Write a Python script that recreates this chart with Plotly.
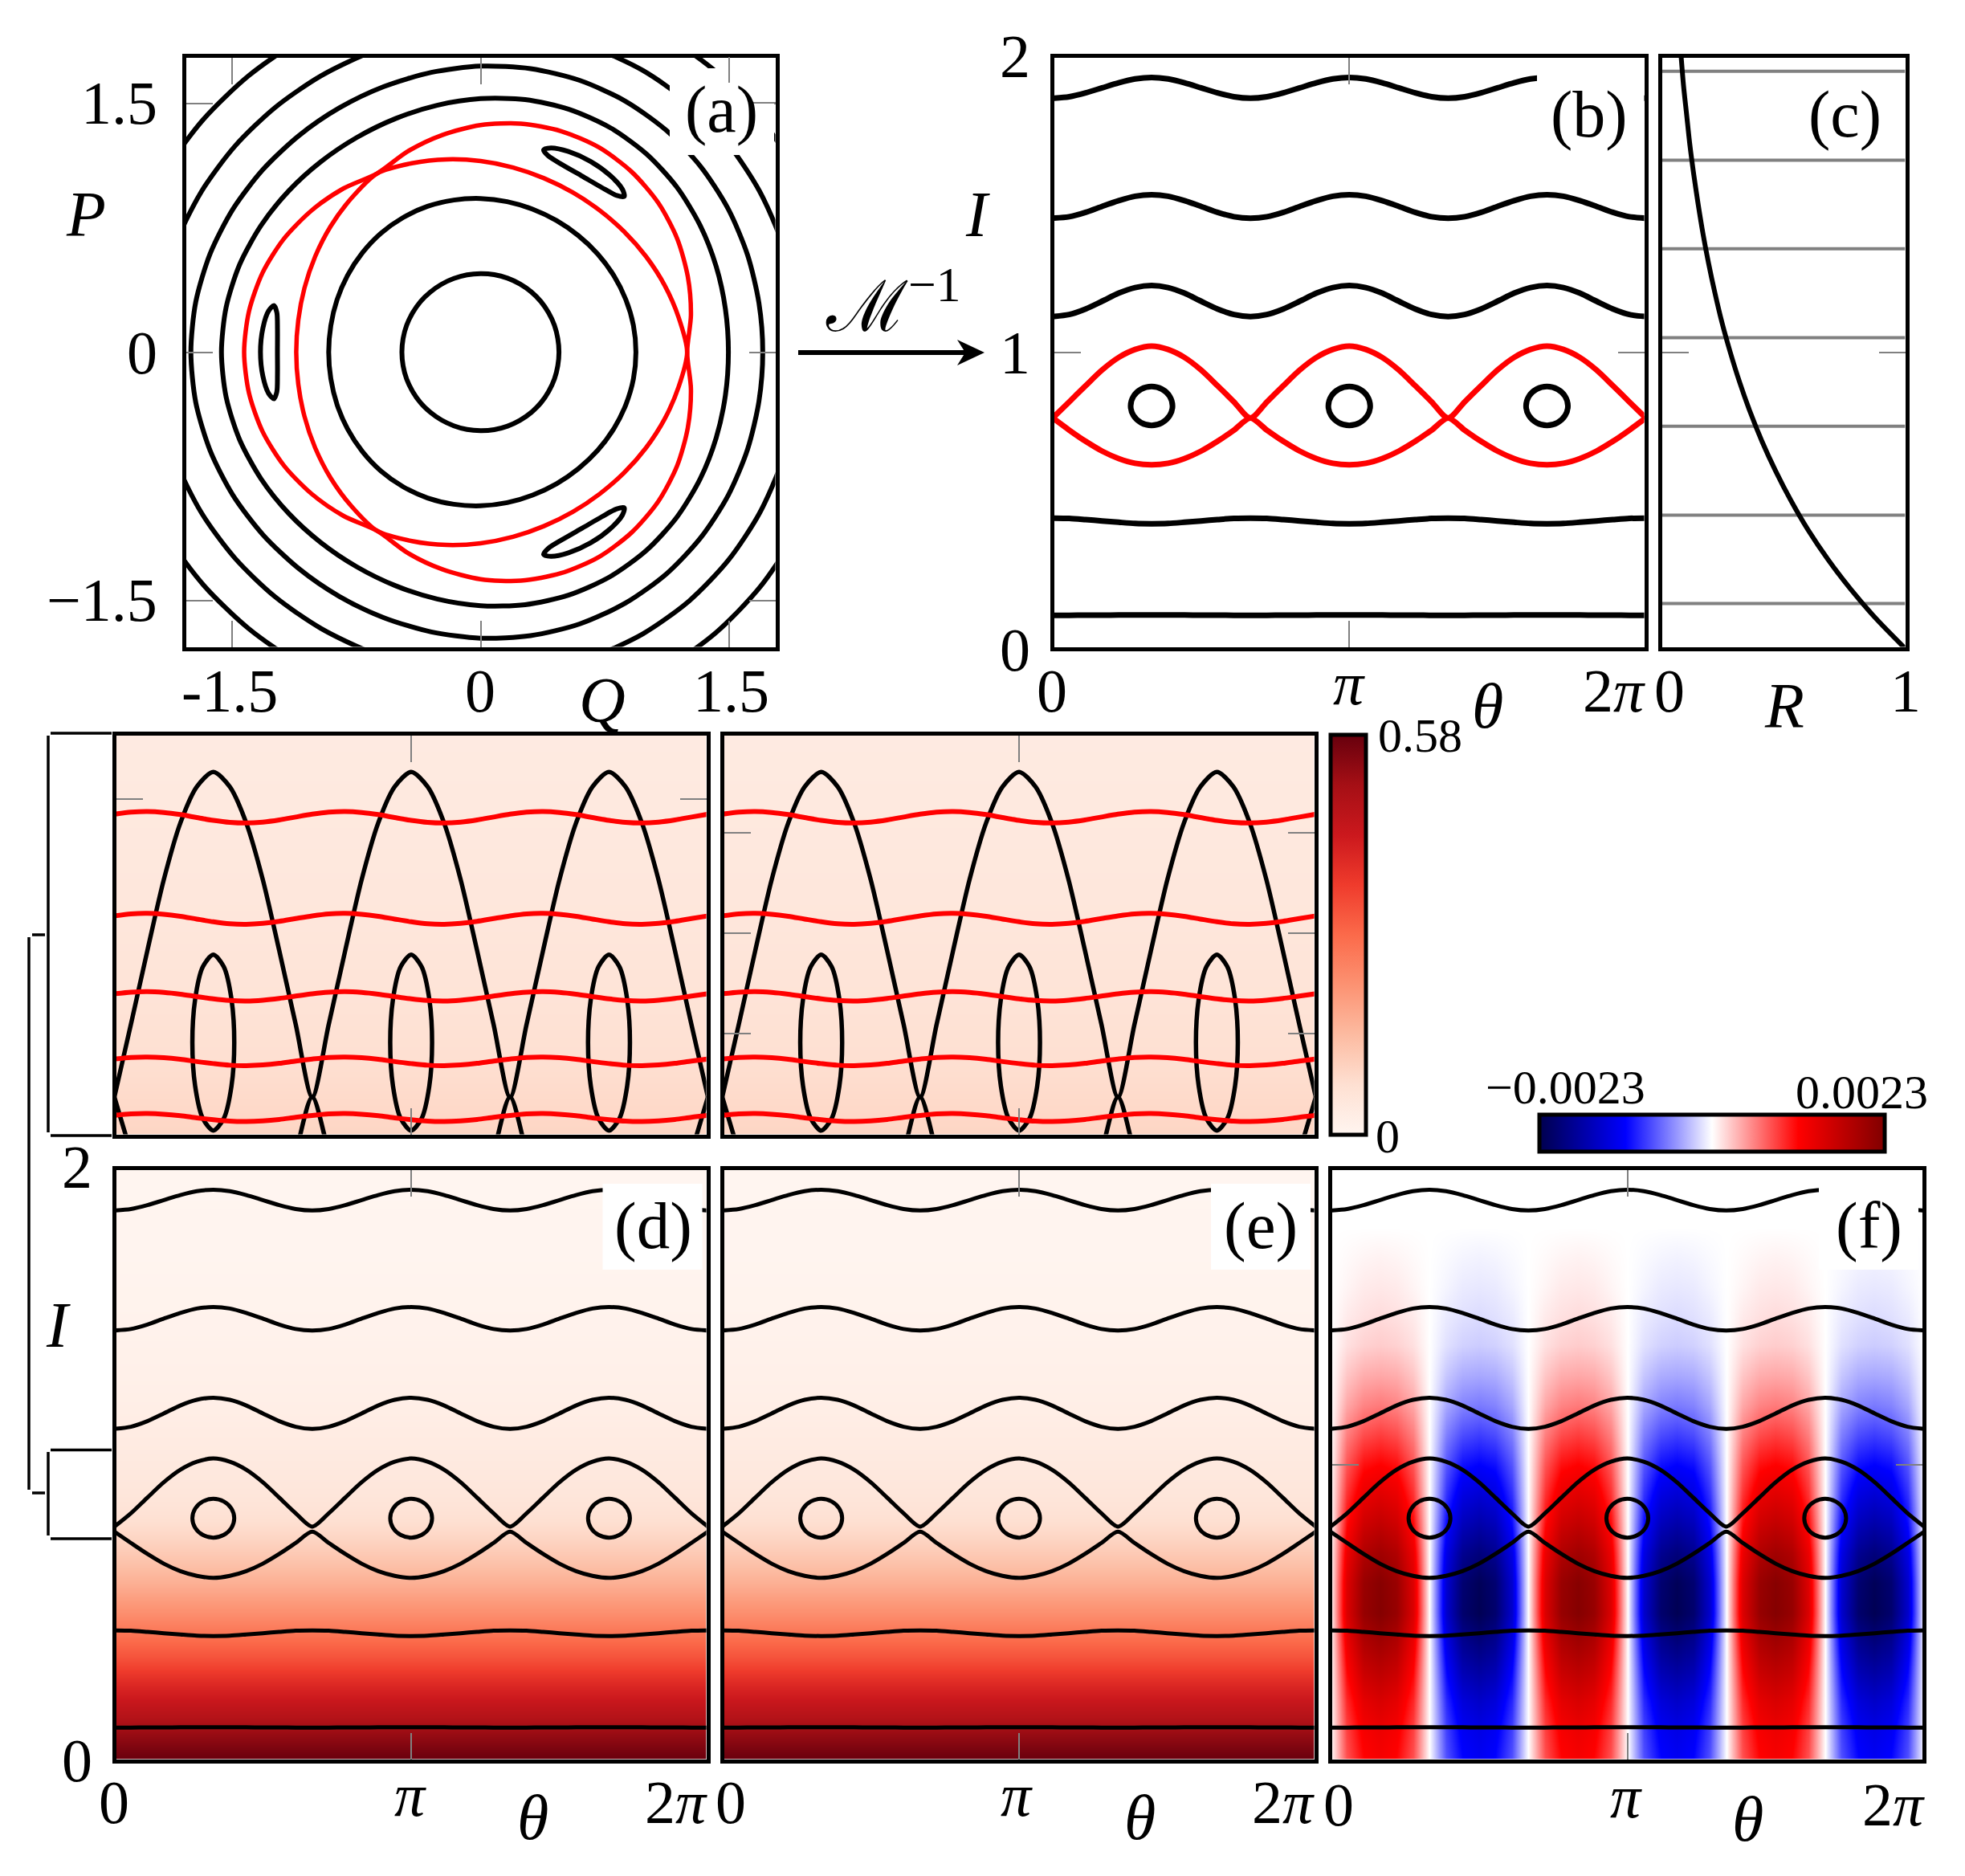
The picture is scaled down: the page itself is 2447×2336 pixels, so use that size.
import numpy as np
import plotly.graph_objects as go

W, H = 2447, 2336

# ---------- values ----------
THETA_DEG = [0,10,20,30,40,50,60,70,80,90,100,110,120,130,140,150,160,170,180,190,200,210,220,230,240,250,260,270,280,290,300,310,320,330,340,350,360]

C1 = [.112,.112,.1125,.1125,.113,.113,.113,.113,.113,.1125,.1125,.112,.112,.112,.1125,.1125,.113,.113,.113,.113,.113,.1125,.1125,.112,.112,.112,.1125,.1125,.113,.113,.113,.113,.113,.1125,.1125,.112,.112]
C2 = [.440,.439,.435,.4305,.426,.422,.421,.422,.426,.4305,.435,.439,.440,.439,.435,.4305,.426,.422,.421,.422,.426,.4305,.435,.439,.440,.439,.435,.4305,.426,.422,.421,.422,.426,.4305,.435,.439,.440]
C4 = [1.120,1.127,1.146,1.172,1.199,1.218,1.225,1.218,1.199,1.172,1.146,1.127,1.120,1.127,1.146,1.172,1.199,1.218,1.225,1.218,1.199,1.172,1.146,1.127,1.120,1.127,1.146,1.172,1.199,1.218,1.225,1.218,1.199,1.172,1.146,1.127,1.120]
C5 = [1.452,1.457,1.472,1.492,1.511,1.526,1.531,1.526,1.511,1.492,1.472,1.457,1.452,1.457,1.472,1.492,1.511,1.526,1.531,1.526,1.511,1.492,1.472,1.457,1.452,1.457,1.472,1.492,1.511,1.526,1.531,1.526,1.511,1.492,1.472,1.457,1.452]
C6 = [1.857,1.862,1.875,1.892,1.909,1.922,1.927,1.922,1.909,1.892,1.875,1.862,1.857,1.862,1.875,1.892,1.909,1.922,1.927,1.922,1.909,1.892,1.875,1.862,1.857,1.862,1.875,1.892,1.909,1.922,1.927,1.922,1.909,1.892,1.875,1.862,1.857]
C7 = [2.37,2.375,2.39,2.41,2.43,2.445,2.45,2.445,2.43,2.41,2.39,2.375,2.37,2.375,2.39,2.41,2.43,2.445,2.45,2.445,2.43,2.41,2.39,2.375,2.37,2.375,2.39,2.41,2.43,2.445,2.45,2.445,2.43,2.41,2.39,2.375,2.37]

SEP_UP = [.778,.832,.887,.94,.982,1.009,1.02,1.009,.982,.94,.887,.832,.778,.832,.887,.94,.982,1.009,1.02,1.009,.982,.94,.887,.832,.778,.832,.887,.94,.982,1.009,1.02,1.009,.982,.94,.887,.832,.778]
SEP_LO = [.778,.737,.699,.666,.641,.625,.62,.625,.641,.666,.699,.737,.778,.737,.699,.666,.641,.625,.62,.625,.641,.666,.699,.737,.778,.737,.699,.666,.641,.625,.62,.625,.641,.666,.699,.737,.778]
SEP_UP_D = [.790,.835,.888,.94,.982,1.009,1.02,1.009,.982,.94,.888,.835,.790,.835,.888,.94,.982,1.009,1.02,1.009,.982,.94,.888,.835,.790,.835,.888,.94,.982,1.009,1.02,1.009,.982,.94,.888,.835,.790]
SEP_LO_D = [.773,.735,.698,.665,.640,.624,.617,.624,.640,.665,.698,.735,.773,.735,.698,.665,.640,.624,.617,.624,.640,.665,.698,.735,.773,.735,.698,.665,.640,.624,.617,.624,.640,.665,.698,.735,.773]

ISLAND_I = [.8185,.851,.875,.884,.875,.851,.8185,.786,.762,.753,.762,.786,.8185]
ISLAND_T1 = [72.7,71,66.35,60,53.65,49,47.3,49,53.65,60,66.35,71,72.7]
ISLAND_T2 = [192.7,191,186.35,180,173.65,169,167.3,169,173.65,180,186.35,191,192.7]
ISLAND_T3 = [312.7,311,306.35,300,293.65,289,287.3,289,293.65,300,306.35,311,312.7]

RED1 = [.9886,.9901,.9906,.9899,.9883,.9861,.9840,.9825,.9820,.9827,.9843,.9865,.9886,.9901,.9906,.9899,.9883,.9861,.9840,.9825,.9820,.9827,.9843,.9865,.9886,.9901,.9906,.9899,.9883,.9861,.9840,.9825,.9820,.9827,.9843,.9865,.9886]
RED2 = [.9129,.9144,.9148,.9141,.9126,.9105,.9085,.9070,.9066,.9073,.9088,.9109,.9129,.9144,.9148,.9141,.9126,.9105,.9085,.9070,.9066,.9073,.9088,.9109,.9129,.9144,.9148,.9141,.9126,.9105,.9085,.9070,.9066,.9073,.9088,.9109,.9129]
RED3 = [.8549,.8561,.8565,.8559,.8546,.8528,.8511,.8499,.8495,.8501,.8514,.8532,.8549,.8561,.8565,.8559,.8546,.8528,.8511,.8499,.8495,.8501,.8514,.8532,.8549,.8561,.8565,.8559,.8546,.8528,.8511,.8499,.8495,.8501,.8514,.8532,.8549]
RED4 = [.8063,.8075,.8078,.8073,.8061,.8044,.8029,.8017,.8014,.8019,.8031,.8048,.8063,.8075,.8078,.8073,.8061,.8044,.8029,.8017,.8014,.8019,.8031,.8048,.8063,.8075,.8078,.8073,.8061,.8044,.8029,.8017,.8014,.8019,.8031,.8048,.8063]
RED5 = [.7643,.7654,.7657,.7652,.7641,.7625,.7611,.7600,.7597,.7602,.7613,.7629,.7643,.7654,.7657,.7652,.7641,.7625,.7611,.7600,.7597,.7602,.7613,.7629,.7643,.7654,.7657,.7652,.7641,.7625,.7611,.7600,.7597,.7602,.7613,.7629,.7643]

# panel (c)
R_I = [0,.1,.2,.3,.4,.5,.6,.7,.8,.9,1,1.1,1.2,1.3,1.4,1.5,1.6,1.7,1.8,1.9,2]
R_VAL = [1,.881,.776,.683,.601,.530,.467,.411,.362,.319,.281,.247,.218,.192,.169,.149,.131,.115,.102,.089,.079]
R_GREY_LEVELS = [.152,.45,.75,1.049,1.349,1.648,1.948]

# panels (d), (e): density against I
DENS_I = [0,.05,.1,.15,.2,.25,.3,.35,.4,.45,.5,.55,.6,.65,.7,.75,.8,.85,.9,.95,1,1.05,1.1,1.15,1.2,1.25,1.3,1.35,1.4,1.45,1.5,1.55,1.6,1.65,1.7,1.75,1.8,1.85,1.9,1.95,2]
DENS_Z = [.58,.551,.516,.476,.441,.406,.365,.325,.29,.255,.223,.194,.165,.139,.116,.093,.075,.061,.052,.046,.041,.036,.032,.027,.023,.020,.017,.015,.013,.010,.009,.007,.006,.005,.003,.003,.002,.002,.001,.001,0]
DENS_TH = [0, 360]

# panel (f): difference, in units of the colour-bar limit
F_I = [0,.1,.2,.3,.4,.5,.6,.7,.8,.9,1,1.1,1.2,1.3,1.4,1.5,1.6,1.7,1.8,1.9,2]
F_TABLE = [
[0,.34,.49,.53,.49,.34,0,-.34,-.49,-.53,-.49,-.34,0,.34,.49,.53,.49,.34,0,-.34,-.49,-.53,-.49,-.34,0,.34,.49,.53,.49,.34,0,-.34,-.49,-.53,-.49,-.34,0],
[0,.37,.53,.57,.53,.37,0,-.37,-.53,-.57,-.53,-.37,0,.37,.53,.57,.53,.37,0,-.37,-.53,-.57,-.53,-.37,0,.37,.53,.57,.53,.37,0,-.37,-.53,-.57,-.53,-.37,0],
[0,.42,.60,.65,.60,.42,0,-.42,-.60,-.65,-.60,-.42,0,.42,.60,.65,.60,.42,0,-.42,-.60,-.65,-.60,-.42,0,.42,.60,.65,.60,.42,0,-.42,-.60,-.65,-.60,-.42,0],
[0,.49,.71,.76,.71,.49,0,-.49,-.71,-.76,-.71,-.49,0,.49,.71,.76,.71,.49,0,-.49,-.71,-.76,-.71,-.49,0,.49,.71,.76,.71,.49,0,-.49,-.71,-.76,-.71,-.49,0],
[0,.57,.81,.87,.81,.57,0,-.57,-.81,-.87,-.81,-.57,0,.57,.81,.87,.81,.57,0,-.57,-.81,-.87,-.81,-.57,0,.57,.81,.87,.81,.57,0,-.57,-.81,-.87,-.81,-.57,0],
[0,.64,.91,.98,.91,.64,0,-.64,-.91,-.98,-.91,-.64,0,.64,.91,.98,.91,.64,0,-.64,-.91,-.98,-.91,-.64,0,.64,.91,.98,.91,.64,0,-.64,-.91,-.98,-.91,-.64,0],
[0,.63,.90,.97,.90,.63,0,-.63,-.90,-.97,-.90,-.63,0,.63,.90,.97,.90,.63,0,-.63,-.90,-.97,-.90,-.63,0,.63,.90,.97,.90,.63,0,-.63,-.90,-.97,-.90,-.63,0],
[0,.57,.81,.87,.81,.57,0,-.57,-.81,-.87,-.81,-.57,0,.57,.81,.87,.81,.57,0,-.57,-.81,-.87,-.81,-.57,0,.57,.81,.87,.81,.57,0,-.57,-.81,-.87,-.81,-.57,0],
[0,.48,.69,.74,.69,.48,0,-.48,-.69,-.74,-.69,-.48,0,.48,.69,.74,.69,.48,0,-.48,-.69,-.74,-.69,-.48,0,.48,.69,.74,.69,.48,0,-.48,-.69,-.74,-.69,-.48,0],
[0,.40,.58,.62,.58,.40,0,-.40,-.58,-.62,-.58,-.40,0,.40,.58,.62,.58,.40,0,-.40,-.58,-.62,-.58,-.40,0,.40,.58,.62,.58,.40,0,-.40,-.58,-.62,-.58,-.40,0],
[0,.33,.47,.50,.47,.33,0,-.33,-.47,-.50,-.47,-.33,0,.33,.47,.50,.47,.33,0,-.33,-.47,-.50,-.47,-.33,0,.33,.47,.50,.47,.33,0,-.33,-.47,-.50,-.47,-.33,0],
[0,.25,.35,.38,.35,.25,0,-.25,-.35,-.38,-.35,-.25,0,.25,.35,.38,.35,.25,0,-.25,-.35,-.38,-.35,-.25,0,.25,.35,.38,.35,.25,0,-.25,-.35,-.38,-.35,-.25,0],
[0,.17,.24,.26,.24,.17,0,-.17,-.24,-.26,-.24,-.17,0,.17,.24,.26,.24,.17,0,-.17,-.24,-.26,-.24,-.17,0,.17,.24,.26,.24,.17,0,-.17,-.24,-.26,-.24,-.17,0],
[0,.11,.16,.17,.16,.11,0,-.11,-.16,-.17,-.16,-.11,0,.11,.16,.17,.16,.11,0,-.11,-.16,-.17,-.16,-.11,0,.11,.16,.17,.16,.11,0,-.11,-.16,-.17,-.16,-.11,0],
[0,.06,.09,.10,.09,.06,0,-.06,-.09,-.10,-.09,-.06,0,.06,.09,.10,.09,.06,0,-.06,-.09,-.10,-.09,-.06,0,.06,.09,.10,.09,.06,0,-.06,-.09,-.10,-.09,-.06,0],
[0,.04,.06,.07,.06,.04,0,-.04,-.06,-.07,-.06,-.04,0,.04,.06,.07,.06,.04,0,-.04,-.06,-.07,-.06,-.04,0,.04,.06,.07,.06,.04,0,-.04,-.06,-.07,-.06,-.04,0],
[0,.02,.04,.045,.04,.02,0,-.02,-.04,-.045,-.04,-.02,0,.02,.04,.045,.04,.02,0,-.02,-.04,-.045,-.04,-.02,0,.02,.04,.045,.04,.02,0,-.02,-.04,-.045,-.04,-.02,0],
[0,.01,.02,.025,.02,.01,0,-.01,-.02,-.025,-.02,-.01,0,.01,.02,.025,.02,.01,0,-.01,-.02,-.025,-.02,-.01,0,.01,.02,.025,.02,.01,0,-.01,-.02,-.025,-.02,-.01,0],
[0]*37, [0]*37, [0]*37,
]
F_LIMIT = 0.0023
DENS_LIMIT = 0.58

REDS = [[0,"#fff5f0"],[.125,"#fee0d2"],[.25,"#fcbba1"],[.375,"#fc9272"],[.5,"#fb6a4a"],[.625,"#ef3b2c"],[.75,"#cb181d"],[.875,"#a50f15"],[1,"#67000d"]]
SEISMIC = [[0,"#00004d"],[.25,"#0000ff"],[.5,"#ffffff"],[.75,"#ff0000"],[1,"#800000"]]

FONT = "Liberation Serif"
GREY = "#808080"

fig = go.Figure()
LAYOUT = {}
count = [0]

def panel(x0, x1, y0, y1, xr, yr, xticks=None, yticks=None):
    """Pixel box of the frame -> an x/y axis pair. Returns trace axis names."""
    count[0] += 1
    n = count[0]
    sfx = "" if n == 1 else str(n)
    common = dict(showgrid=False, zeroline=False, showline=True, linecolor="black", linewidth=5,
                  mirror="ticks", ticks="inside", ticklen=33, tickwidth=2, tickcolor=GREY,
                  showticklabels=False, layer="above traces")
    LAYOUT["xaxis" + sfx] = dict(common, domain=[(x0 + 2.5) / W, (x1 - 2.5) / W], range=xr,
                                 tickmode="array", tickvals=xticks or [], anchor="y" + sfx)
    LAYOUT["yaxis" + sfx] = dict(common, domain=[1 - (y1 - 2.5) / H, 1 - (y0 + 2.5) / H], range=yr,
                                 tickmode="array", tickvals=yticks or [], anchor="x" + sfx)
    return "x" + sfx, "y" + sfx

def curve(ax, x, y, color="black", width=4):
    fig.add_trace(go.Scatter(x=x, y=y, xaxis=ax[0], yaxis=ax[1], mode="lines", showlegend=False, hoverinfo="skip",
                             line=dict(color=color, width=width, shape="spline", smoothing=0.8)))

annos = []
def txt(x, y, s, size=76, xanchor="center", color="black"):
    annos.append(dict(x=x / W, y=1 - y / H, xref="paper", yref="paper", text=s, showarrow=False,
                      xanchor=xanchor, yanchor="middle", font=dict(family=FONT, size=size, color=color)))

shapes = []
def seg(x0, y0, x1, y1, color="black", width=3.5):
    shapes.append(dict(type="line", xref="paper", yref="paper", x0=x0 / W, x1=x1 / W, y0=1 - y0 / H, y1=1 - y1 / H,
                       line=dict(color=color, width=width)))
def box(x0, y0, x1, y1):
    shapes.append(dict(type="rect", xref="paper", yref="paper", x0=x0 / W, x1=x1 / W, y0=1 - y0 / H, y1=1 - y1 / H,
                       fillcolor="white", line=dict(width=0), layer="above"))

def QP(theta, act):
    r = np.sqrt(2 * np.asarray(act, float))
    t = np.radians(np.asarray(theta, float))
    return (r * np.cos(t)).tolist(), (r * np.sin(t)).tolist()

# ---------- (a) ----------
a = panel(229, 968, 69, 808, [-1.78, 1.78], [-1.78, 1.78], [-1.5, 0, 1.5], [-1.5, 0, 1.5])
for c in (C1, C2, C4, C5, C6, C7):
    curve(a, *QP(THETA_DEG, c), width=6)
for t in (ISLAND_T1, ISLAND_T2, ISLAND_T3):
    curve(a, *QP(t, ISLAND_I), width=6)
for c in (SEP_UP, SEP_LO):
    curve(a, *QP(THETA_DEG, c), color="#ff0000", width=5.5)

# ---------- (b) ----------
b = panel(1310.5, 2050, 69, 808, [1, 359], [.0054, 1.9946], [180], [1])
for c in (C1, C2, C4, C5, C6):
    curve(b, THETA_DEG, c, width=7)
for t in (ISLAND_T1, ISLAND_T2, ISLAND_T3):
    curve(b, t, ISLAND_I, width=7)
for c in (SEP_UP, SEP_LO):
    curve(b, THETA_DEG, c, color="#ff0000", width=7)

# ---------- (c) ----------
c_ax = panel(2067, 2375, 69, 808, [0, 1], [.0054, 1.9946], [], [1])
for lev in R_GREY_LEVELS:
    fig.add_trace(go.Scatter(x=[0, 1], y=[lev, lev], xaxis=c_ax[0], yaxis=c_ax[1], mode="lines", showlegend=False,
                             hoverinfo="skip", line=dict(color=GREY, width=4)))
curve(c_ax, R_VAL, R_I, width=6)

# ---------- upper density panels ----------
def heat_dens(ax, **kw):
    fig.add_trace(go.Heatmap(x=DENS_TH, y=DENS_I, z=[[v, v] for v in DENS_Z], xaxis=ax[0], yaxis=ax[1],
                             colorscale=REDS, zmin=0, zmax=DENS_LIMIT, zsmooth="best", hoverinfo="skip", **kw))

TOP_Y = [.7502, 1.0474]
dt = panel(142, 882, 913, 1415, [1, 359], TOP_Y, [180], [1.0])
et = panel(899, 1639, 913, 1415, [1, 359], TOP_Y, [180], [.825, .9, .975])
heat_dens(dt, showscale=False)
heat_dens(et, showscale=True, colorbar=dict(
    x=1657 / W, xanchor="left", xpad=0, y=1 - 915 / H, yanchor="top", ypad=0,
    thickness=44, thicknessmode="pixels", len=498, lenmode="pixels",
    outlinecolor="black", outlinewidth=5, ticks="", showticklabels=False))
for ax in (dt, et):
    for c in (SEP_UP, SEP_LO):
        curve(ax, THETA_DEG, c, width=5.5)
    for t in (ISLAND_T1, ISLAND_T2, ISLAND_T3):
        curve(ax, t, ISLAND_I, width=5.5)
    for c in (RED1, RED2, RED3, RED4, RED5):
        curve(ax, THETA_DEG, c, color="#ff0000", width=6)

# ---------- (d), (e), (f) ----------
d = panel(142, 882, 1454, 2193, [1, 359], [.0054, 1.9946], [180], [])
e = panel(899, 1639, 1454, 2193, [1, 359], [.0054, 1.9946], [180], [])
f = panel(1656.5, 2396.5, 1454, 2193, [1, 359], [.0054, 1.9946], [180], [1])
heat_dens(d, showscale=False)
heat_dens(e, showscale=False)
fig.add_trace(go.Heatmap(x=THETA_DEG, y=F_I, z=(np.array(F_TABLE) * F_LIMIT).tolist(), xaxis=f[0], yaxis=f[1],
                         colorscale=SEISMIC, zmin=-F_LIMIT, zmax=F_LIMIT, zsmooth="best", hoverinfo="skip",
                         colorbar=dict(orientation="h", x=1917 / W, xanchor="left", xpad=0,
                                       y=1 - 1388 / H, yanchor="top", ypad=0,
                                       thickness=46, thicknessmode="pixels", len=430, lenmode="pixels",
                                       outlinecolor="black", outlinewidth=5, ticks="", showticklabels=False)))
for ax in (d, e, f):
    for c in (C1, C2, C4, C5, C6, SEP_UP_D, SEP_LO_D):
        curve(ax, THETA_DEG, c, width=5)
    for t in (ISLAND_T1, ISLAND_T2, ISLAND_T3):
        curve(ax, t, ISLAND_I, width=5)

# ---------- label masks ----------
box(834, 85, 964, 193)
box(1914, 85, 2047, 195)
for x0 in (750.5, 1508, 2265):
    box(x0, 1474, x0 + 124, 1581)
# the grey ticks of (a) stay visible on its mask
seg(908, 71, 908, 103, GREY, 2)
seg(932, 128, 966, 128, GREY, 2)

# ---------- brackets ----------
seg(63, 913, 139, 913); seg(63, 1414, 139, 1414); seg(60, 916, 60, 1410)
seg(63, 1805.5, 139, 1805.5); seg(63, 1916, 139, 1916); seg(60, 1808, 60, 1912)
seg(40, 1164, 56, 1164); seg(40, 1859, 56, 1859); seg(36, 1167, 36, 1855)

# ---------- arrow from (a) to (b) ----------
seg(994, 439, 1215, 439, "black", 6)
shapes.append(dict(type="path", xref="paper", yref="paper", fillcolor="black", line=dict(width=0),
                   path="M %f,%f L %f,%f L %f,%f L %f,%f Z" % (
                       1226 / W, 1 - 439 / H, 1192 / W, 1 - 423 / H, 1202 / W, 1 - 439 / H, 1192 / W, 1 - 455 / H)))

# ---------- text ----------
txt(198, 128, "1.5", xanchor="right"); txt(198, 439, "0", xanchor="right"); txt(198, 747, "\u22121.5", xanchor="right")
txt(286, 860, "-1.5"); txt(598, 860, "0"); txt(910, 860, "1.5")
txt(107, 267, "<i>P</i>", 80); txt(750, 872, "<i>Q</i>", 80)
txt(1217, 267, "<i>I</i>", 80)
txt(1112, 376, "\u2133<sup>\u22121</sup>", 88)
txt(1264, 70, "2"); txt(1264, 439, "1"); txt(1264, 809, "0")
txt(1310, 860, "0"); txt(1680, 851, "<i>\u03c0</i>"); txt(2010, 860, "2<i>\u03c0</i>")
txt(1852, 879, "<i>\u03b8</i>", 80)
txt(2079, 860, "0"); txt(2373, 860, "1"); txt(2222, 879, "<i>R</i>", 80)
txt(898, 136, "(a)", 82); txt(1979, 142, "(b)", 82); txt(2297, 142, "(c)", 82)
txt(813, 1526, "(d)", 83); txt(1570, 1526, "(e)", 83); txt(2327, 1526, "(f)", 83)
txt(1768, 916, "0.58", 60); txt(1728, 1415, "0", 60)
txt(1949, 1354, "\u22120.0023", 60); txt(2318, 1360, "0.0023", 60)
txt(96, 1453, "2"); txt(96, 2192, "0"); txt(72, 1650, "<i>I</i>", 80)
txt(142, 2244, "0"); txt(511, 2235, "<i>\u03c0</i>"); txt(663, 2263, "<i>\u03b8</i>", 80); txt(842, 2244, "2<i>\u03c0</i>")
txt(910, 2244, "0"); txt(1266, 2235, "<i>\u03c0</i>"); txt(1419, 2263, "<i>\u03b8</i>", 80); txt(1598, 2244, "2<i>\u03c0</i>")
txt(1667, 2247, "0"); txt(2025, 2237, "<i>\u03c0</i>"); txt(2176, 2265, "<i>\u03b8</i>", 80); txt(2358, 2247, "2<i>\u03c0</i>")

fig.update_layout(width=W, height=H, margin=dict(l=0, r=0, t=0, b=0, autoexpand=False), autosize=False,
                  paper_bgcolor="white", plot_bgcolor="white", showlegend=False,
                  shapes=shapes, annotations=annos, **LAYOUT)

fig.write_html("out.html", config={"displayModeBar": False}, post_script="document.body.style.margin='0';")
